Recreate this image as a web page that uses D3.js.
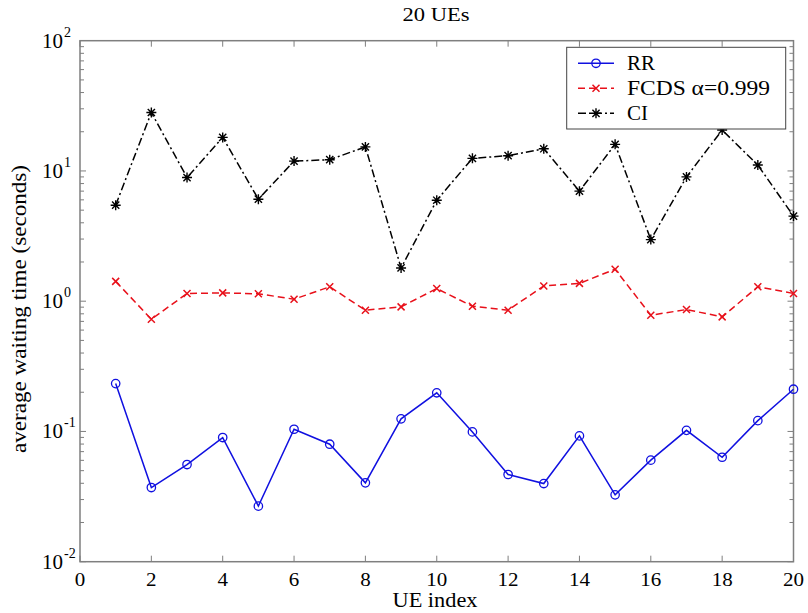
<!DOCTYPE html>
<html>
<head>
<meta charset="utf-8">
<script src="https://cdn.jsdelivr.net/npm/d3@7"></script>
<style>
body{margin:0;background:#fff;}
svg text{font-family:"Liberation Serif","Times New Roman","DejaVu Serif",serif;fill:#000;}
</style>
</head>
<body>
<svg id="c" width="808" height="613"></svg>
<script>
const ueIndex = [1,2,3,4,5,6,7,8,9,10,11,12,13,14,15,16,17,18,19,20];
const rrValues = [0.233,0.0371,0.0557,0.0898,0.0267,0.104,0.0798,0.0403,0.125,0.198,0.0992,0.0467,0.0398,0.0924,0.0326,0.0602,0.102,0.0634,0.121,0.211];
const fcdsValues = [1.42,0.727,1.146,1.158,1.14,1.036,1.29,0.853,0.905,1.25,0.915,0.853,1.31,1.37,1.76,0.78,0.863,0.758,1.29,1.146];
const ciValues = [5.46,28.1,8.9,18.1,6.07,11.9,12.2,15.3,1.80,5.96,12.5,13.1,14.8,7.0,16.0,2.97,9.0,20.6,11.1,4.5];
const xTicks = [0,2,4,6,8,10,12,14,16,18,20];
const yExponents = [-2,-1,0,1,2];
const seriesNames = ["RR","FCDS \u03b1=0.999","CI"];

const svg = d3.select("#c");
const L=80, R=793.5, T=40.7, B=561.7;
const x = d3.scaleLinear().domain([0,20]).range([L,R]);
const y = d3.scaleLog().domain([0.01,100]).range([B,T]);
const axisColor = "#7f7f7f";

svg.append("rect").attr("x",L).attr("y",T).attr("width",R-L).attr("height",B-T)
  .attr("fill","none").attr("stroke",axisColor).attr("stroke-width",1.5);

const tickLen = 6;
const g = svg.append("g");
xTicks.forEach(t=>{
  g.append("line").attr("x1",x(t)).attr("x2",x(t)).attr("y1",B).attr("y2",B-tickLen).attr("stroke",axisColor).attr("stroke-width",1);
  g.append("line").attr("x1",x(t)).attr("x2",x(t)).attr("y1",T).attr("y2",T+tickLen).attr("stroke",axisColor).attr("stroke-width",1);
  const tx = g.append("text").attr("x",x(t)).attr("y",586).attr("text-anchor","middle").attr("font-size",19).text(t);
  tx.attr("textLength", String(t).length*10.5).attr("lengthAdjust","spacingAndGlyphs");
});
for(let e=-2;e<=1;e++){
  for(let m=1;m<=9;m++){
    const v=m*Math.pow(10,e);
    const len = m===1?tickLen:4;
    g.append("line").attr("x1",L).attr("x2",L+len).attr("y1",y(v)).attr("y2",y(v)).attr("stroke",axisColor).attr("stroke-width",1);
    g.append("line").attr("x1",R).attr("x2",R-len).attr("y1",y(v)).attr("y2",y(v)).attr("stroke",axisColor).attr("stroke-width",1);
  }
}
yExponents.forEach(e=>{
  const yy = y(Math.pow(10,e));
  g.append("text").attr("x",63).attr("y",yy+7).attr("text-anchor","end").attr("font-size",21).text("10");
  g.append("text").attr("x",64).attr("y",yy-4).attr("text-anchor","start").attr("font-size",14).text(e);
});

svg.append("text").attr("x",436).attr("y",21).attr("text-anchor","middle").attr("font-size",18)
  .attr("textLength",67).attr("lengthAdjust","spacingAndGlyphs").text("20 UEs");
svg.append("text").attr("x",435).attr("y",607).attr("text-anchor","middle").attr("font-size",20)
  .attr("textLength",85).attr("lengthAdjust","spacingAndGlyphs").text("UE index");
svg.append("text").attr("transform","translate(26,309) rotate(-90)").attr("text-anchor","middle").attr("font-size",20)
  .attr("textLength",288).attr("lengthAdjust","spacingAndGlyphs").text("average waiting time (seconds)");

const line = d3.line().x((d,i)=>x(ueIndex[i])).y(d=>y(d));
const series = [
  {name:seriesNames[0], vals:rrValues, color:"#1010e0", dash:null, marker:"o", tl:28},
  {name:seriesNames[1], vals:fcdsValues, color:"#e8101a", dash:"7,4", marker:"x", tl:143},
  {name:seriesNames[2], vals:ciValues, color:"#000", dash:"8,3,2,3", marker:"*", tl:21}
];

function drawMarker(sel, type, cx, cy, color){
  if(type==="o"){
    sel.append("circle").attr("cx",cx).attr("cy",cy).attr("r",4.2).attr("fill","none").attr("stroke",color).attr("stroke-width",1.3);
  } else if(type==="x"){
    const s=3.5;
    sel.append("path").attr("d",`M${cx-s},${cy-s}L${cx+s},${cy+s}M${cx-s},${cy+s}L${cx+s},${cy-s}`).attr("stroke",color).attr("stroke-width",1.5);
  } else {
    const s=5;
    const d=s*0.72;
    sel.append("path").attr("d",`M${cx},${cy-s}L${cx},${cy+s}M${cx-s},${cy}L${cx+s},${cy}M${cx-d},${cy-d}L${cx+d},${cy+d}M${cx-d},${cy+d}L${cx+d},${cy-d}`).attr("stroke",color).attr("stroke-width",1.4);
  }
}

series.forEach(s=>{
  svg.append("path").attr("d",line(s.vals)).attr("fill","none").attr("stroke",s.color).attr("stroke-width",1.5)
    .attr("stroke-dasharray",s.dash);
  const mg = svg.append("g");
  s.vals.forEach((v,i)=>drawMarker(mg,s.marker,x(ueIndex[i]),y(v),s.color));
});

const lg = svg.append("g");
lg.append("rect").attr("x",566.7).attr("y",47.3).attr("width",219).attr("height",81.7).attr("fill","#fff").attr("stroke","#444").attr("stroke-width",1);
series.forEach((s,i)=>{
  const yy = 63.3 + i*25;
  lg.append("line").attr("x1",578).attr("x2",614).attr("y1",yy).attr("y2",yy).attr("stroke",s.color).attr("stroke-width",1.5).attr("stroke-dasharray",s.dash);
  drawMarker(lg,s.marker,596,yy,s.color);
  lg.append("text").attr("x",627).attr("y",yy+7).attr("font-size",20)
    .attr("textLength",s.tl).attr("lengthAdjust","spacingAndGlyphs").text(s.name);
});
</script>
</body>
</html>
